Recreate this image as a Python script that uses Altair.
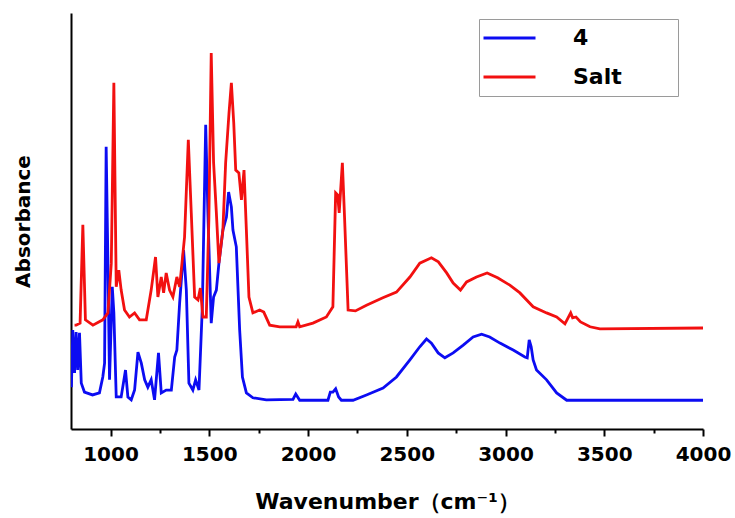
import altair as alt
import pandas as pd

# IR spectra: wavenumber (cm-1) and absorbance (arbitrary units, offset traces)
blue_wn = [802, 809, 818, 826, 834, 843, 852, 868, 909, 944,
           961, 970, 978, 987, 995, 1009, 1017, 1029, 1054, 1076,
           1088, 1105, 1122, 1139, 1156, 1173, 1189, 1206, 1223, 1243,
           1257, 1282, 1308, 1325, 1336, 1350, 1370, 1384, 1397, 1417,
           1431, 1448, 1465, 1482, 1493, 1510, 1522, 1536, 1549, 1569,
           1587, 1598, 1612, 1620, 1637, 1654, 1668, 1688, 1721, 1789,
           1924, 1938, 1958, 2101, 2113, 2126, 2140, 2155, 2169, 2228,
           2296, 2380, 2448, 2516, 2566, 2600, 2625, 2659, 2693, 2735,
           2786, 2836, 2879, 2920, 2972, 3039, 3098, 3110, 3120, 3130,
           3140, 3157, 3208, 3259, 3310, 3500, 4000]
blue_abs = [10.0, 24.0, 13.5, 23.5, 14.2, 23.3, 11.0, 8.8, 8.1, 8.6,
            12.5, 15.9, 68.9, 40.4, 11.8, 34.6, 28.2, 7.6, 7.6, 14.2,
            7.6, 6.9, 9.3, 18.6, 15.9, 11.8, 10.0, 11.8, 6.9, 18.4,
            8.6, 9.3, 9.3, 17.4, 19.1, 30.6, 43.6, 33.8, 11.0, 9.3,
            11.8, 9.3, 29.7, 74.3, 52.9, 25.7, 32.1, 33.8, 40.4, 48.5,
            51.7, 57.8, 54.2, 48.5, 44.4, 24.0, 12.5, 8.6, 7.4, 6.9,
            7.0, 8.3, 6.8, 6.8, 8.8, 8.8, 9.6, 7.6, 6.8, 6.8,
            8.1, 9.8, 12.5, 16.7, 19.9, 21.8, 20.8, 18.4, 17.2, 18.4,
            20.3, 22.3, 23.0, 22.3, 20.8, 19.1, 17.4, 17.2, 21.6, 19.9,
            16.7, 14.2, 11.8, 8.6, 6.8, 6.8, 6.8]

red_wn = [818, 826, 846, 860, 873, 911, 961, 987, 1004, 1017,
          1029, 1042, 1054, 1071, 1096, 1122, 1147, 1181, 1206, 1228,
          1240, 1257, 1269, 1282, 1299, 1316, 1336, 1350, 1375, 1394,
          1409, 1426, 1443, 1455, 1468, 1485, 1498, 1510, 1522, 1536,
          1549, 1569, 1583, 1600, 1612, 1624, 1634, 1650, 1663, 1676,
          1688, 1701, 1721, 1755, 1776, 1806, 1857, 1924, 1940, 1949,
          1958, 2025, 2093, 2126, 2140, 2150, 2158, 2174, 2185, 2203,
          2240, 2296, 2379, 2448, 2516, 2566, 2625, 2660, 2702, 2735,
          2772, 2803, 2853, 2907, 2960, 3022, 3073, 3140, 3208, 3259,
          3301, 3330, 3340, 3357, 3380, 3428, 3478, 4000]
red_abs = [25.2, 25.2, 25.7, 49.8, 26.5, 25.2, 26.5, 28.2, 40.4, 84.6,
           34.6, 38.7, 33.8, 28.9, 27.2, 28.2, 26.5, 26.5, 33.8, 41.9,
           32.1, 37.0, 33.1, 38.0, 33.8, 32.1, 37.0, 34.6, 46.8, 70.6,
           52.7, 32.1, 31.4, 34.3, 27.2, 27.2, 51.0, 91.9, 65.0, 52.7,
           40.4, 48.5, 65.0, 77.2, 84.6, 74.8, 63.2, 62.5, 55.9, 63.2,
           48.5, 32.1, 28.2, 28.9, 28.4, 25.2, 24.8, 24.8, 24.8, 26.0,
           24.8, 25.7, 27.2, 29.7, 57.6, 57.1, 52.7, 65.0, 51.7, 28.9,
           28.7, 30.1, 31.9, 33.3, 37.0, 40.4, 41.7, 40.7, 38.0, 35.5,
           33.8, 35.8, 37.0, 38.0, 36.8, 35.0, 33.1, 29.7, 28.2, 27.2,
           25.5, 28.2, 27.0, 27.2, 26.0, 24.8, 24.3, 24.5]

series_names = ["4", "Salt"]
series_colors = ["#0c0cf2", "#f21010"]
x_ticks = list(range(1000, 4001, 250))

df = pd.concat([
    pd.DataFrame({"wavenumber": blue_wn, "absorbance": blue_abs, "series": series_names[0]}),
    pd.DataFrame({"wavenumber": red_wn, "absorbance": red_abs, "series": series_names[1]}),
])

FONT = "DejaVu Sans"

chart = alt.Chart(df).mark_line(strokeWidth=2.8, clip=True).encode(
    x=alt.X(
        "wavenumber:Q",
        scale=alt.Scale(domain=[800, 4000], nice=False, zero=False),
        axis=alt.Axis(
            values=x_ticks,
            format="d",
            labelExpr="datum.value % 500 === 0 ? datum.label : ''",
            tickSize={"condition": {"test": "datum.value % 500 === 0", "value": 7}, "value": 4},
            tickWidth=2,
            tickColor="black",
            domainColor="black",
            domainWidth=2,
            grid=False,
            labelFont=FONT,
            labelFontSize=20,
            labelFontWeight="bold",
            labelColor="black",
            labelPadding=8,
            labelFlush=False,
            title="Wavenumber（cm⁻¹）",
            titleFont=FONT,
            titleFontSize=22,
            titleFontWeight="bold",
            titleColor="black",
            titleY=79,
            titleBaseline="alphabetic",
        ),
    ),
    y=alt.Y(
        "absorbance:Q",
        scale=alt.Scale(domain=[-0.25, 101.7], nice=False, zero=False),
        axis=alt.Axis(
            ticks=False,
            labels=False,
            grid=False,
            domainColor="black",
            domainWidth=2,
            title="Absorbance",
            titleFont=FONT,
            titleFontSize=20,
            titleFontWeight="bold",
            titleColor="black",
            titlePadding=38,
        ),
    ),
    color=alt.Color(
        "series:N",
        scale=alt.Scale(domain=series_names, range=series_colors),
        legend=alt.Legend(
            orient="none",
            legendX=408,
            legendY=6,
            # blank heading on the right widens the framed box
            title=" ",
            titleOrient="right",
            titleFontSize=8,
            titlePadding=53,
            clipHeight=32,
            symbolType="stroke",
            symbolSize=2704,
            symbolStrokeWidth=3,
            labelFont=FONT,
            labelFontSize=22,
            labelFontWeight="bold",
            labelColor="black",
            labelOffset=36,
            rowPadding=7,
            padding=3,
            strokeColor="#9a9a9a",
            fillColor="white",
        ),
    ),
).properties(
    width=632,
    height=416,
    padding={"left": 71, "top": 13, "right": 32, "bottom": 89},
    autosize="none",
    background="white",
).configure_view(stroke=None)

chart.save("out.html", embed_options={"renderer": "svg", "actions": False})
